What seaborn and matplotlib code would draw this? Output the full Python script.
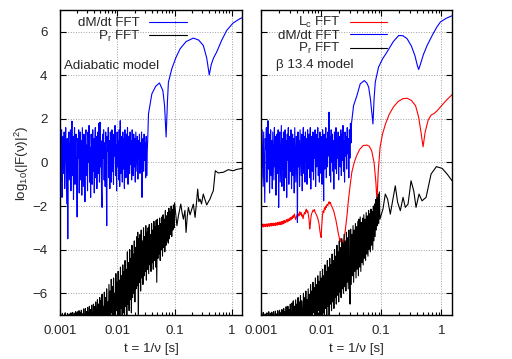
import numpy as np
import pandas as pd
import seaborn as sns
import matplotlib
matplotlib.use("Agg")
import matplotlib.pyplot as plt
from matplotlib.ticker import FixedLocator, FixedFormatter, LogLocator, NullFormatter

sns.set_style("ticks")
plt.rcParams['font.family'] = ['Liberation Sans', 'DejaVu Sans']
plt.rcParams['mathtext.default'] = 'regular'

# ---- data ----
# noisy stretches: values on an even log-t grid between the given start/end times
# smooth stretches: (log10 t, value) pairs

# left panel, dM/dt FFT
dmdt_ad_noise_span = (0.001, 0.034)
dmdt_ad_noise = [
    1.3, -0.9, 0.6, 1.5, -1.6, 0.2, 1.2, -0.5, 1.4, -1.2,
    0.8, 1.6, -0.3, -1.9, 1.1, -3.5, 0.9, 1.4, -0.8, 0.3,
    1.5, -1.3, 0.7, 1.9, -0.6, 1.2, -1.7, 0.4, 1.6, -1.0,
    0.9, 1.3, -0.4, -2.5, 1.1, 0.2, 1.5, -1.4, 0.6, 1.4,
    -0.8, 1.0, -1.5, 1.6, 0.1, -1.1, 1.3, 0.5, -1.8, 1.2,
    1.5, -0.6, 0.8, -1.3, 1.4, 0.0, 1.7, -0.9, 0.7, -1.6,
    1.3, 0.3, -1.0, 1.5, -0.4, 1.1, -1.4, 0.6, 1.6, -0.7,
    1.2, -1.2, 0.4, 1.4, -0.5, 1.8, -0.9, 1.85, -0.2, 1.0,
    -1.3, -2.06, 1.3, 0.2, 1.5, -0.8, 0.9, -1.1, 1.4, -0.3,
    -2.9, 1.2, 0.5, 1.6, -0.7, 1.0, -1.2, 1.4, 0.1, -0.9,
    1.5, -0.4, 1.1, -1.0, 1.3, 0.3, 1.7, -0.6, 0.8, -1.3,
    1.4, -0.2, 1.0, -0.8, 1.5, -1.1, 1.92, -0.5, 1.2, 0.0,
    -0.9, 1.4, -0.3, 1.1, -1.2, 1.5, 0.2, -0.7, 1.3, -0.4,
    1.6, -1.0, 0.9, 1.2, -0.5, 1.4, -0.1, 1.0, -0.8, 1.5,
    0.3, -0.6, 1.3, -0.2, 1.1, -0.9, 1.4, 0.4, -0.4, 1.2,
    -0.76, 1.0, 0.2, 1.3, -0.5, 0.9, -0.3, 1.4, -1.6, 0.6,
    1.1, -0.4, 1.3, 0.1, 0.9, -0.7, 1.2, -0.6, 0.5, 1.1]
dmdt_ad_logt = [-1.456, -1.397, -1.33, -1.264, -1.205, -1.175, -1.148, -1.125,
                -1.108, -1.049, -0.98, -0.904, -0.80, -0.673, -0.58, -0.499,
                -0.44, -0.395, -0.36, -0.32, -0.266, -0.18, -0.092, 0.02, 0.139, 0.18]
dmdt_ad_vals = [2.23, 3.15, 3.5, 3.65, 3.3, 2.6, 1.17, 2.8,
                3.69, 4.3, 4.8, 5.22, 5.55, 5.71, 5.62, 5.37,
                4.8, 4.02, 4.5, 4.8, 5.07, 5.6, 6.06, 6.4, 6.6, 6.65]

# left panel, P_r FFT
pr_ad_noise_span = (0.001, 0.1)
pr_ad_noise = [
    -7.2, -6.95, -7.3, -7.1, -6.92, -7.3, -7.2, -7.0, -7.3, -6.9,
    -7.25, -7.05, -7.3, -6.93, -7.2, -7.3, -6.95, -7.1, -7.3, -6.9,
    -7.2, -7.3, -6.88, -7.15, -7.3, -6.92, -7.25, -6.85, -7.3, -7.0,
    -6.85, -7.3, -7.1, -6.8, -7.25, -6.9, -7.3, -6.78, -7.2, -6.95,
    -7.3, -6.72, -7.1, -7.3, -6.7, -7.2, -6.85, -7.3, -6.65, -7.05,
    -7.3, -6.6, -7.25, -6.75, -7.3, -6.55, -7.1, -7.3, -6.5, -7.2,
    -6.6, -7.3, -6.4, -7.0, -7.3, -6.3, -7.2, -6.5, -7.3, -6.2,
    -7.1, -6.35, -7.3, -6.05, -7.2, -6.6, -7.3, -5.95, -7.1, -6.2,
    -7.3, -5.8, -7.0, -6.4, -7.3, -5.6, -7.2, -5.9, -7.3, -5.36,
    -6.9, -5.7, -7.3, -5.3, -7.1, -6.0, -7.3, -5.1, -6.8, -5.5,
    -7.3, -5.0, -7.0, -5.4, -7.3, -4.8, -6.7, -5.2, -7.2, -4.7,
    -6.9, -5.0, -7.3, -4.5, -6.6, -4.9, -7.1, -4.1, -6.5, -4.6,
    -6.8, -4.0, -6.3, -4.4, -6.9, -3.8, -6.2, -4.2, -6.0, -3.6,
    -6.4, -3.9, -5.8, -3.4, -5.66, -3.2, -7.5, -3.5, -5.5, -3.3,
    -5.9, -3.1, -5.3, -3.6, -5.6, -3.0, -5.2, -3.4, -5.0, -2.9,
    -5.4, -3.2, -4.9, -3.0, -5.1, -2.85, -4.7, -3.3, -5.0, -2.8,
    -4.6, -3.1, -4.9, -2.7, -4.5, -2.95, -4.8, -2.65, -5.5, -2.6,
    -4.4, -2.9, -4.2, -2.55, -4.5, -2.8, -4.0, -2.5, -4.3, -2.4,
    -3.9, -2.6, -4.1, -2.2, -3.8, -2.45, -3.6, -2.3, -3.7, -2.1,
    -3.5, -2.25, -3.3, -2.0, -3.4, -2.15, -3.1, -1.95, -3.0, -1.85]
pr_ad_logt = [-0.96, -0.934, -0.892, -0.87, -0.847, -0.82, -0.80, -0.78, -0.76,
              -0.73, -0.70, -0.673, -0.643, -0.62, -0.597, -0.577, -0.557, -0.53,
              -0.50, -0.47, -0.44, -0.41, -0.383, -0.35, -0.325, -0.29, -0.238,
              -0.19, -0.151, -0.10, -0.064, 0.022, 0.08, 0.18]
pr_ad_vals = [-2.9, -2.45, -1.91, -2.3, -2.6, -2.2, -3.21, -2.5, -2.06,
              -2.4, -2.14, -1.91, -2.52, -1.9, -1.22, -1.8, -1.68, -1.9,
              -1.45, -1.7, -1.95, -1.8, -1.68, -1.45, -1.3, -0.38, -0.48,
              -0.46, -0.45, -0.38, -0.33, -0.38, -0.32, -0.27]

# right panel, L_c FFT
lc_b_noise_span = (0.001, 0.0025)
lc_b_noise = [
    -2.86, -2.95, -2.84, -2.93, -2.82, -2.96, -2.85, -2.92, -2.83, -2.94,
    -2.84, -2.91, -2.82, -2.95, -2.83, -2.90, -2.81, -2.93, -2.82, -2.89,
    -2.80, -2.92, -2.79, -2.88, -2.81, -2.90, -2.78, -2.87, -2.80, -2.89,
    -2.77, -2.86, -2.78, -2.88, -2.75, -2.85, -2.76, -2.84, -2.73, -2.86,
    -2.74, -2.82, -2.71, -2.84, -2.70, -2.80, -2.68, -2.79, -2.66, -2.76]
lc_b_wave_span = (0.00257, 0.0251)
lc_b_wave = [
    -2.72, -2.62, -2.74, -2.60, -2.70, -2.58, -2.66, -2.52, -2.64, -2.50,
    -2.58, -2.44, -2.52, -2.36, -2.48, -2.62, -2.50, -2.40, -2.52, -2.36,
    -2.44, -2.26, -2.38, -2.30, -2.46, -2.40, -2.58, -2.42, -2.30, -2.36,
    -2.20, -2.14, -2.28, -2.22, -2.40, -2.62, -3.05, -2.80, -2.46, -2.34,
    -2.26, -2.18, -2.24, -2.16, -2.28, -2.34, -2.40, -2.48, -2.56, -2.68,
    -2.84, -3.10, -3.30, -3.44, -2.90, -2.46, -2.22, -2.30, -2.08, -2.16,
    -2.00, -2.06, -1.92, -1.98, -1.86, -1.80, -1.90, -1.84, -1.96, -2.02,
    -2.08, -2.16, -2.24, -2.38, -2.50, -2.62, -2.78, -2.96, -3.12, -3.30,
    -3.42, -3.60, -3.50, -3.66, -3.56, -3.74, -3.82, -3.60, -3.40, -3.15]
lc_b_logt = [-1.585, -1.565, -1.55, -1.52, -1.49, -1.45, -1.41, -1.36, -1.30, -1.24,
             -1.20, -1.16, -1.12, -1.09, -1.072, -1.05, -1.02, -0.98, -0.93, -0.87,
             -0.80, -0.72, -0.64, -0.57, -0.50, -0.43, -0.38, -0.34, -0.305, -0.27,
             -0.22, -0.17, -0.12, -0.07, 0.00, 0.08, 0.18]
lc_b_vals = [-2.80, -2.30, -1.83, -1.10, -0.45, 0.00, 0.31, 0.60, 0.78, 0.80,
             0.75, 0.54, 0.0, -0.9, -1.76, -0.40, 0.70, 1.30, 1.77, 2.20,
             2.54, 2.80, 2.93, 2.95, 2.85, 2.61, 2.10, 1.40, 0.72, 1.40,
             1.95, 2.18, 2.25, 2.38, 2.60, 2.85, 3.12]

# right panel, dM/dt FFT
dmdt_b_noise_span = (0.001, 0.032)
dmdt_b_noise = [
    1.2, -0.7, 1.5, 0.3, -1.1, 1.4, -0.4, -1.83, 1.1, 0.6,
    1.6, -0.9, 0.8, 1.92, -0.3, 1.3, -1.4, 0.5, 1.5, -0.6,
    1.0, -1.2, 1.4, 0.2, -0.8, 1.6, -0.2, 1.2, -1.5, 0.7,
    1.3, -0.5, 1.5, -2.06, 0.9, 1.4, -0.9, 0.4, 1.7, -1.1,
    1.1, -0.3, 1.4, -1.3, 0.6, 1.5, -0.7, 1.0, -1.6, 1.3,
    0.1, 1.6, -1.0, 0.8, 1.2, -0.4, 1.5, -1.2, 0.5, 1.3,
    -0.6, 1.1, -1.4, 1.6, 0.3, -0.9, 1.2, 0.7, -2.75, 1.4,
    -0.2, 1.0, -1.1, 1.5, 0.4, -0.6, 1.3, -1.3, 0.9, 1.6,
    -0.5, 1.2, -0.9, 1.4, 0.0, 1.1, -1.0, 1.5, -0.3, 0.8,
    1.3, -0.7, 1.6, -1.22, 0.6, 1.2, -0.4, 1.4, -0.8, 1.0,
    0.2, 1.5, -1.1, 1.3, -0.2, 0.9, 1.6, -0.6, 1.1, -0.9,
    1.4, 0.1, -0.5, 1.2, -1.0, 1.5, 0.4, -1.76, 1.3, -0.3,
    1.0, 1.6, -0.7, 1.1, -0.2, 1.4, 0.3, 2.31, -0.6, 1.2,
    -0.9, 1.5, 0.0, 1.3, -0.4, 1.0, -1.22, 1.4, 0.5, -0.3,
    1.6, -0.5, 1.1, 0.2, 1.4, -0.8, 1.2, 0.6, -0.2, 1.5,
    -0.6, 1.3, 0.1, 1.7, -0.4, 1.0, -0.9, 1.4, 0.3, 1.2,
    -0.3, 1.6, 0.4, 1.1, -0.7, 1.5, 0.2, 1.8, 0.9, 1.8]
dmdt_b_logt = [-1.461, -1.405, -1.35, -1.283, -1.24, -1.21, -1.18, -1.155, -1.138,
               -1.12, -1.1, -1.045, -0.98, -0.905, -0.80, -0.71, -0.64, -0.57,
               -0.50, -0.44, -0.40, -0.378, -0.35, -0.30, -0.238, -0.15, -0.08,
               -0.017, 0.08, 0.18]
dmdt_b_vals = [2.61, 3.07, 3.61, 3.76, 3.65, 3.46, 2.9, 2.2, 1.77,
               2.9, 3.69, 4.38, 4.75, 5.07, 5.55, 5.83, 5.82, 5.68,
               5.35, 4.9, 4.45, 4.27, 4.5, 4.95, 5.37, 5.85, 6.2,
               6.45, 6.62, 6.74]

# right panel, P_r FFT
pr_b_noise_span = (0.001, 0.095)
pr_b_noise = [
    -7.2, -6.9, -7.3, -7.05, -6.88, -7.3, -7.15, -6.95, -7.3, -7.0,
    -6.9, -7.25, -7.3, -6.85, -7.1, -7.3, -6.92, -7.2, -6.87, -7.3,
    -7.05, -6.85, -7.3, -7.2, -6.82, -7.3, -6.95, -7.25, -6.8, -7.1,
    -7.3, -6.78, -7.2, -6.9, -7.3, -6.75, -7.1, -7.3, -6.7, -7.2,
    -6.85, -7.3, -6.62, -7.1, -7.3, -6.6, -7.2, -6.75, -7.3, -6.5,
    -7.15, -7.3, -6.45, -7.0, -6.35, -7.3, -6.6, -7.25, -6.3, -7.3,
    -6.5, -7.1, -6.2, -7.3, -6.4, -7.2, -6.1, -7.3, -6.35, -6.95,
    -7.3, -6.0, -7.2, -6.2, -7.3, -5.9, -7.05, -6.3, -7.3, -5.8,
    -7.1, -6.05, -7.3, -5.6, -7.2, -5.9, -7.3, -5.5, -6.9, -5.75,
    -7.3, -5.3, -7.1, -5.6, -7.3, -5.2, -6.8, -5.45, -7.3, -5.0,
    -7.0, -5.3, -7.3, -4.9, -6.9, -5.2, -7.2, -4.7, -6.7, -5.0,
    -7.1, -4.5, -6.6, -4.8, -7.0, -4.4, -6.5, -4.7, -6.8, -4.2,
    -6.4, -4.5, -6.7, -4.0, -6.2, -4.3, -6.5, -3.8, -6.1, -4.1,
    -6.4, -3.6, -5.95, -3.9, -6.2, -3.5, -5.8, -3.7, -6.0, -3.3,
    -5.7, -3.6, -5.9, -3.2, -5.5, -3.45, -5.8, -3.1, -5.4, -6.5,
    -3.06, -5.6, -3.3, -5.2, -2.9, -5.5, -3.1, -5.0, -2.8, -5.3,
    -2.95, -4.9, -2.7, -5.2, -2.6, -4.8, -2.5, -5.0, -2.75, -4.6,
    -2.55, -4.7, -2.4, -4.4, -2.6, -4.5, -2.3, -4.2, -2.45, -4.3,
    -2.2, -4.0, -2.35, -4.1, -2.14, -3.8, -2.25, -4.0, -2.0, -3.6,
    -1.9, -3.4, -1.7, -3.1, -1.6, -2.9, -1.45, -2.8, -1.35, -2.6]
pr_b_logt = [-0.972, -0.933, -0.895, -0.85, -0.805, -0.767, -0.728, -0.683,
             -0.638, -0.6, -0.555, -0.505, -0.46, -0.422, -0.372, -0.322,
             -0.255, -0.172, -0.083, 0.012, 0.095, 0.178]
pr_b_vals = [-2.14, -1.45, -1.68, -2.37, -1.68, -1.07, -1.83, -2.21,
             -1.6, -2.06, -1.91, -0.84, -1.3, -2.06, -1.45, -1.76,
             -1.6, -0.53, -0.19, -0.27, -0.53, -0.84]

x_ticks = [0.001, 0.01, 0.1, 1]
x_tick_labels = ['0.001', '0.01', '0.1', '1']
y_ticks = [-6, -4, -2, 0, 2, 4, 6]

FS = 9.6
BLUE, RED, BLACK = '#0000ff', '#ff0000', '#000000'


def noisy(span, vals):
    return np.geomspace(span[0], span[1], len(vals)), np.asarray(vals)


def smooth(logt, vals):
    return 10 ** np.asarray(logt), np.asarray(vals)


def spectrum(name, *parts):
    t = np.concatenate([p[0] for p in parts])
    y = np.concatenate([p[1] for p in parts])
    return pd.DataFrame({'t': t, 'y': y, 'series': name})


left = pd.concat([
    spectrum('dMdt', noisy(dmdt_ad_noise_span, dmdt_ad_noise), smooth(dmdt_ad_logt, dmdt_ad_vals)),
    spectrum('Pr', noisy(pr_ad_noise_span, pr_ad_noise), smooth(pr_ad_logt, pr_ad_vals)),
])
right = pd.concat([
    spectrum('Lc', noisy(lc_b_noise_span, lc_b_noise), noisy(lc_b_wave_span, lc_b_wave),
             smooth(lc_b_logt, lc_b_vals)),
    spectrum('dMdt', noisy(dmdt_b_noise_span, dmdt_b_noise), smooth(dmdt_b_logt, dmdt_b_vals)),
    spectrum('Pr', noisy(pr_b_noise_span, pr_b_noise), smooth(pr_b_logt, pr_b_vals)),
])
colors = {'Lc': RED, 'dMdt': BLUE, 'Pr': BLACK}

fig = plt.figure(figsize=(5.12, 3.59), dpi=100)
ax1 = fig.add_axes([60 / 512, 1 - 315 / 359, 182 / 512, 305 / 359])
ax2 = fig.add_axes([261 / 512, 1 - 315 / 359, 191 / 512, 305 / 359])


def style(ax, show_y):
    ax.set_xscale('log')
    ax.set_xlim(0.001, 1.5)
    ax.set_ylim(-7, 7)
    ax.xaxis.set_major_locator(FixedLocator(x_ticks))
    ax.xaxis.set_major_formatter(FixedFormatter(x_tick_labels))
    ax.xaxis.set_minor_locator(LogLocator(base=10, subs=np.arange(2, 10)))
    ax.xaxis.set_minor_formatter(NullFormatter())
    ax.yaxis.set_major_locator(FixedLocator(y_ticks))
    ax.tick_params(which='both', direction='in', top=True, right=True,
                   labelsize=FS, width=0.8, color='black')
    ax.tick_params(which='major', length=4.5)
    ax.tick_params(which='minor', length=2.5)
    ax.tick_params(axis='x', pad=7)
    ax.tick_params(axis='y', pad=9, labelleft=show_y)
    ax.grid(True, which='major', ls=':', color='#a0a0a0', lw=0.7)
    for s in ax.spines.values():
        s.set_linewidth(1.0)
        s.set_color('black')
    ax.set_ylabel('')
    ax.set_xlabel('t = 1/ν [s]', fontsize=FS)
    ax.xaxis.set_label_coords(0.5, -0.092)


def key(ax, rows, x_text, x0, x1):
    for y, label, color in rows:
        ax.text(x_text, y - 0.015, label, transform=ax.transAxes, ha='right',
                va='baseline', fontsize=FS)
        ax.plot([x0, x1], [y, y], transform=ax.transAxes, color=color, lw=0.8)


for ax, df in [(ax1, left), (ax2, right)]:
    sns.lineplot(data=df, x='t', y='y', hue='series', palette=colors,
                 estimator=None, sort=False, lw=0.8, legend=False, ax=ax)

style(ax1, True)
style(ax2, False)

key(ax1, [(0.962, 'dM/dt FFT', BLUE), (0.918, 'P$_r$ FFT', BLACK)], 0.44, 0.489, 0.698)
key(ax2, [(0.962, 'L$_c$ FFT', RED), (0.920, 'dM/dt FFT', BLUE),
          (0.876, 'P$_r$ FFT', BLACK)], 0.414, 0.466, 0.66)
ax1.text(0.022, 0.805, 'Adiabatic model', transform=ax1.transAxes, fontsize=FS, va='baseline')
ax2.text(0.079, 0.811, 'β 13.4 model', transform=ax2.transAxes, fontsize=FS, va='baseline')

fig.text(22 / 512, 1 - 163 / 359, 'log$_{10}$(|F(ν)|$^2$)', rotation=90,
         ha='center', va='center', fontsize=FS)

fig.savefig('out.png', dpi=100)
